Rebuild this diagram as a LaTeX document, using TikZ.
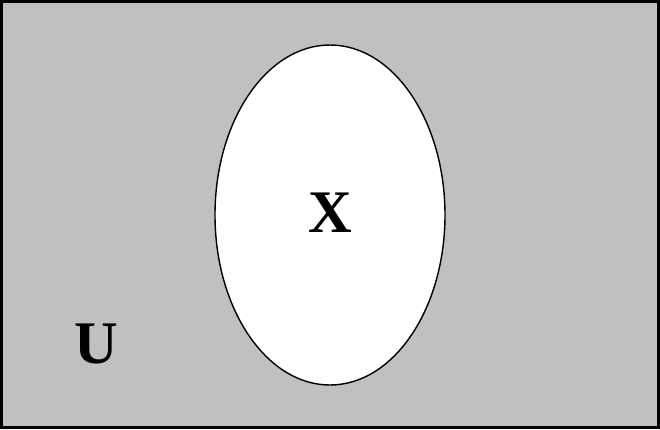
\documentclass[tikz,border=0pt]{standalone}
\usepackage{fontspec}
\setmainfont{Liberation Serif}
\usepackage{xcolor}
\definecolor{universe}{RGB}{192,192,192}

\begin{document}
\begin{tikzpicture}
				% Frame of the picture
				\useasboundingbox (0,0) rectangle (16.5,10.725);
				% Universe
				\draw[line width=2.2pt, fill=universe] (0.0375,0.0375) rectangle (16.4625,10.6875);
				\node[font=\fontsize{43}{43}\selectfont\bfseries] (labelU) at (2.4,2.125) {U};
				
				% Set X
				\draw[line width=1pt, fill=white] (8.25,5.35) ellipse [x radius=2.875, y radius=4.25];
				\node[font=\fontsize{43}{43}\selectfont\bfseries] (labelX) at (8.25,5.4) {X};
			\end{tikzpicture}
\end{document}
